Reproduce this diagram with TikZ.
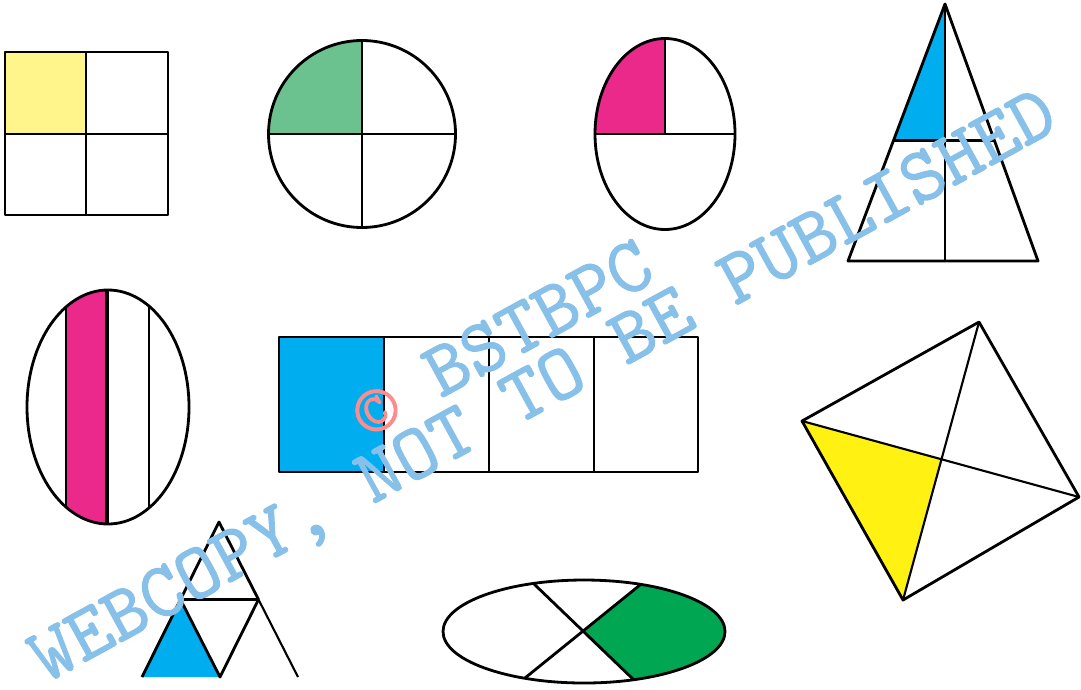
\documentclass[tikz,border=0pt]{standalone}
\usepackage{fontspec}
\usepackage{xcolor}
\usepackage{tikz}
\usetikzlibrary{calc}
\newfontfamily\wmfont{lmmono10-regular.otf}[FakeBold=1.2]
\definecolor{paleyellow}{RGB}{255,245,138}
\definecolor{leafgreen}{RGB}{107,194,143}
\definecolor{rosepink}{RGB}{234,41,139}
\definecolor{skyblue}{RGB}{0,174,239}
\definecolor{lemon}{RGB}{255,242,18}
\definecolor{grassgreen}{RGB}{0,166,81}
\definecolor{wmblue}{RGB}{135,192,232}

\begin{document}
\begin{tikzpicture}[thick,line join=round,
  wmark/.style={inner sep=0pt,anchor=base west,rotate=28.7,text=wmblue,
    font=\wmfont\fontsize{22.4}{24}\selectfont}]
\useasboundingbox (0,0) rectangle (10.81,6.89);

% square in four
\fill[paleyellow] (0.05,5.55) rectangle (0.86,6.37);
\draw (0.05,4.74) rectangle (1.68,6.37);
\draw (0.86,4.74) -- (0.86,6.37);
\draw (0.05,5.55) -- (1.68,5.55);

% circle in four
\fill[leafgreen] (3.62,5.55) -- (2.685,5.55) arc[start angle=180,end angle=90,radius=0.935] -- cycle;
\draw (3.62,5.55) circle[radius=0.935];
\draw (2.685,5.55) -- (4.555,5.55);
\draw (3.62,4.615) -- (3.62,6.485);

% oval, only top half cut again
\fill[rosepink] (6.65,5.55) -- (5.95,5.55) arc[start angle=180,end angle=90,x radius=0.7,y radius=0.955] -- cycle;
\draw (6.65,5.55) ellipse[x radius=0.7,y radius=0.955];
\draw (5.95,5.55) -- (7.35,5.55);
\draw (6.65,5.55) -- (6.65,6.505);

% tall triangle
\coordinate (ta) at (9.45,6.85);
\coordinate (tl) at (8.48,4.28);
\coordinate (tr) at (10.38,4.28);
\coordinate (tm) at (9.45,4.28);
\coordinate (tml) at ($(ta)!0.53!(tl)$);
\coordinate (tmr) at ($(ta)!0.53!(tr)$);
\coordinate (tmc) at ($(ta)!0.53!(tm)$);
\fill[skyblue] (ta) -- (tml) -- (tmc) -- cycle;
\draw (ta) -- (tl) -- (tr) -- cycle;
\draw (ta) -- (tm);
\draw (tml) -- (tmr);

% striped oval
\begin{scope}
  \clip (1.08,2.82) ellipse[x radius=0.81,y radius=1.17];
  \fill[rosepink] (0.66,1.5) rectangle (1.07,4.1);
  \draw[semithick] (0.66,1.5) -- (0.66,4.1);
  \draw[very thick] (1.07,1.5) -- (1.07,4.1);
  \draw[semithick] (1.49,1.5) -- (1.49,4.1);
\end{scope}
\draw (1.08,2.82) ellipse[x radius=0.81,y radius=1.17];

% strip of four
\fill[skyblue] (2.79,2.17) rectangle (3.84,3.52);
\draw (2.79,2.17) rectangle (6.98,3.52);
\foreach \x in {3.84,4.89,5.94}
  \draw (\x,2.17) -- (\x,3.52);

% kite with diagonals
\coordinate (q1) at (8.02,2.68);
\coordinate (q2) at (9.79,3.67);
\coordinate (q3) at (10.79,1.92);
\coordinate (q4) at (9.03,0.89);
\coordinate (qo) at (intersection of q1--q3 and q2--q4);
\fill[lemon] (q1) -- (qo) -- (q4) -- cycle;
\draw (q1) -- (q2) -- (q3) -- (q4) -- cycle;
\draw[semithick] (q1) -- (q3) (q2) -- (q4);

% small triangle
\coordinate (sa) at (2.19,1.67);
\coordinate (sl) at (1.42,0.12);
\coordinate (sr) at (2.98,0.12);
\coordinate (sb) at ($(sl)!0.5!(sr)$);
\coordinate (sml) at ($(sa)!0.5!(sl)$);
\coordinate (smr) at ($(sa)!0.5!(sr)$);
\fill[skyblue] (sml) -- (sl) -- (sb) -- cycle;
\draw (sl) -- (sa) -- (smr);
\draw[semithick] (smr) -- (sr);
\draw[semithick] (sml) -- (smr);
\draw (sml) -- (sb) -- (smr);

% flat ellipse
\coordinate (e1) at (5.32,1.07);
\coordinate (e2) at (6.34,0.09);
\coordinate (e3) at (6.40,1.04);
\coordinate (e4) at (5.25,0.11);
\coordinate (eo) at (intersection of e1--e2 and e3--e4);
\begin{scope}
  \clip (5.84,0.575) ellipse[x radius=1.41,y radius=0.515];
  \fill[grassgreen] (eo) -- ($(eo)!1.6!(e3)$) -- (7.4,1.3) -- (7.4,-0.2)
    -- ($(eo)!1.6!(e2)$) -- cycle;
  \draw ($(eo)!1.6!(e1)$) -- ($(eo)!1.6!(e2)$);
  \draw ($(eo)!1.6!(e3)$) -- ($(eo)!1.6!(e4)$);
\end{scope}
\draw (5.84,0.575) ellipse[x radius=1.41,y radius=0.515];

% watermark
\node[wmark] (wmtop) at (3.67,2.50) {{\color{red!45}©} BSTBPC};
\node[wmark] (wmbottom) at (0.45,0.05) {WEBCOPY, NOT TO BE PUBLISHED};
\end{tikzpicture}
\end{document}
